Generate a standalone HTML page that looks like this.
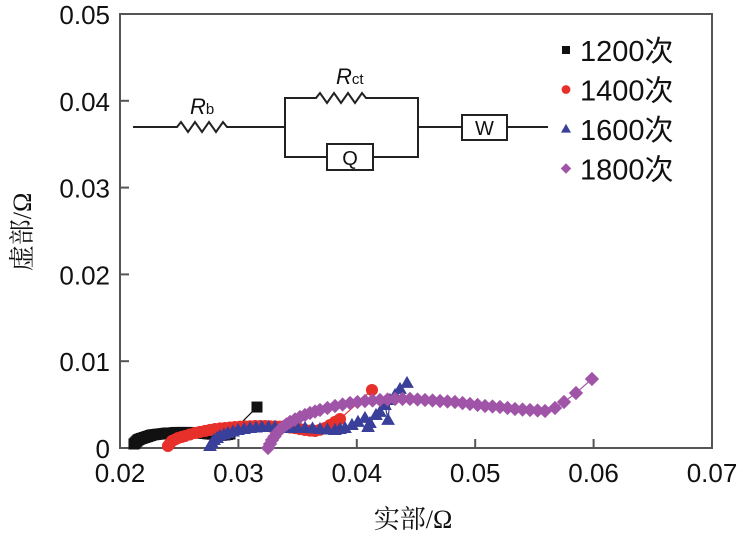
<!DOCTYPE html>
<html><head><meta charset="utf-8"><style>
html,body{margin:0;padding:0;background:#fff;}
svg{display:block;}
.t{font-family:"Liberation Sans",Arial,sans-serif;fill:#111;}
.c{font-family:"Liberation Serif","Noto Serif CJK SC",serif;fill:#111;}
</style></head><body>
<svg id="chart" width="743" height="536" viewBox="0 0 743 536">
<g id="axes"></g>
<g id="circuit" stroke="#222" stroke-width="2" fill="none">
<path d="M133 127 H177 l4 -5 l7 10 l7 -10 l7 10 l7 -10 l7 10 l7 -10 l4 5 H285"/>
<path d="M285 127 V98 H316 l4 -5 l7 10 l7 -10 l7 10 l7 -10 l7 10 l7 -10 l4 5 H418 V157 H373 M327 157 H285 V127"/>
<rect x="327" y="144" width="46" height="26" fill="#fff"/>
<path d="M418 127 H462 M507 127 H548"/>
<rect x="462" y="115" width="45" height="25" fill="#fff"/>
</g>
<text class="t" x="190" y="114" font-size="22" font-style="italic">R<tspan font-size="15" font-style="normal">b</tspan></text>
<text class="t" x="336" y="84" font-size="22" font-style="italic">R<tspan font-size="15" font-style="normal">ct</tspan></text>
<text class="t" x="350" y="165" font-size="20" text-anchor="middle">Q</text>
<text class="t" x="484.5" y="135" font-size="20" text-anchor="middle">W</text>
<g id="series"></g>
<g id="legend"></g>
<text class="c" x="413" y="528" font-size="26" text-anchor="middle">实部/Ω</text>
<text class="c" x="0" y="0" font-size="26" text-anchor="middle" transform="translate(31,232) rotate(-90)">虚部/Ω</text>
</svg>
<script>
const xTicks=[0.02,0.03,0.04,0.05,0.06,0.07];
const yTicks=[0,0.01,0.02,0.03,0.04,0.05];
const xTickLabels=["0.02","0.03","0.04","0.05","0.06","0.07"];
const yTickLabels=["0","0.01","0.02","0.03","0.04","0.05"];
const seriesNames=["1200次","1400次","1600次","1800次"];
const s1200x=[.02118,.02127,.02135,.02143,.02152,.0216,.02169,.02182,.02194,.02207,.0222,.02232,.02245,.02258,.0227,.02287,.02304,.02321,.02338,.02355,.02372,.02388,.02405,.02422,.02439,.02456,.02473,.0249,.02507,.02528,.02549,.0257,.02591,.02612,.02633,.02655,.02676,.02697,.02718,.02739,.0276,.02781,.02802,.02824,.02845,.02866,.02887,.02908,.02929,.03157];
const s1200y=[.00046,.00058,.00069,.0008,.00092,.00098,.00104,.0011,.00115,.00121,.00127,.00132,.00138,.00144,.0015,.00153,.00156,.00159,.00161,.00164,.00167,.0017,.00173,.00173,.00173,.00176,.00179,.00179,.00179,.00179,.00179,.00179,.00179,.00176,.00173,.00173,.00173,.0017,.00167,.00164,.00161,.00159,.00156,.00153,.0015,.0015,.0015,.00155,.00161,.00472];
const s1400x=[.02405,.02422,.02439,.02465,.0249,.0252,.02549,.0259,.02633,.02675,.02718,.0276,.02802,.02845,.02887,.02929,.02971,.03014,.03056,.03098,.0314,.03183,.03225,.03267,.03309,.03352,.03394,.03436,.03478,.0352,.03563,.03605,.03647,.03689,.03731,.03774,.03816,.03858,.04128];
const s1400y=[.00023,.00052,.00081,.00098,.00115,.00127,.00138,.00156,.00173,.00185,.00196,.00208,.00219,.00225,.0023,.00236,.00242,.00245,.00248,.0025,.00253,.00253,.00253,.0025,.00248,.00245,.00242,.00236,.0023,.00218,.00207,.00201,.00196,.0021,.0023,.00265,.003,.00334,.00668];
const s1600x=[.0276,.02777,.02794,.0282,.02845,.02878,.02912,.02955,.02997,.03048,.03098,.03149,.03199,.03254,.03309,.03372,.03436,.035,.03563,.03626,.03689,.03752,.03816,.03858,.039,.03959,.0401,.04069,.04095,.04111,.04162,.04196,.04238,.04264,.0428,.04323,.04365,.04424];
const s1600y=[.00023,.00058,.00092,.00115,.00138,.00156,.00173,.0019,.00207,.00219,.0023,.00236,.00242,.00242,.00242,.00236,.0023,.0023,.0023,.00225,.00219,.00213,.00207,.00219,.0023,.00265,.003,.00346,.00242,.00288,.0038,.00415,.00495,.00323,.00553,.00611,.0068,.00749];
const s1800x=[.0325,.03267,.03284,.03305,.03326,.0335,.03377,.03405,.03436,.03478,.0352,.03562,.03605,.03647,.03689,.03752,.03816,.0388,.03943,.04006,.04069,.04133,.04196,.0426,.04323,.04386,.04449,.04513,.04576,.0464,.04703,.04766,.04829,.04893,.04956,.0502,.05083,.05146,.05209,.05273,.05336,.054,.05463,.05527,.0559,.05674,.0575,.05851,.05986];
const s1800y=[0,.00046,.00092,.00133,.00173,.0021,.00242,.00272,.003,.00329,.00357,.0038,.00403,.0042,.00438,.00461,.00484,.00501,.00518,.0053,.00541,.00547,.00553,.00559,.00565,.00565,.00565,.00559,.00553,.00547,.00541,.00536,.0053,.00518,.00507,.00496,.00484,.00478,.00472,.00461,.00449,.00443,.00438,.00432,.00426,.00461,.0053,.00634,.00795];

const NS='http://www.w3.org/2000/svg';
const X0=120,X1=712,Y0=448,Y1=14;
const xs=v=>X0+(v-0.02)/0.05*(X1-X0);
const ys=v=>Y0-(v/0.05)*(Y0-Y1);
function mk(tag,attrs,parent){const e=document.createElementNS(NS,tag);for(const k in attrs)e.setAttribute(k,attrs[k]);parent.appendChild(e);return e;}
const axes=document.getElementById('axes');
const frame=mk('rect',{x:X0,y:Y1,width:X1-X0,height:Y0-Y1,fill:'none',stroke:'#555','stroke-width':2},axes);


xTicks.forEach((v,i)=>{
  const l=mk('line',{x1:xs(v),x2:xs(v),y1:Y0,y2:Y0-9,stroke:'#555','stroke-width':2},axes);
  
  
  const t=mk('text',{x:xs(v),y:Y0+34,'font-size':26,'text-anchor':'middle',class:'t'},axes);
  t.textContent=xTickLabels[i];
  
  
});
yTicks.forEach((v,i)=>{
  const l=mk('line',{x1:X0,x2:X0+9,y1:ys(v),y2:ys(v),stroke:'#555','stroke-width':2},axes);
  
  
  const t=mk('text',{x:X0-10,y:ys(v)+10,'font-size':26,'text-anchor':'end',class:'t'},axes);
  t.textContent=yTickLabels[i];
  
  
});
const colors=['#111111','#e8302a','#3a3f9a','#a054a8'];
const shapes=['square','circle','triangle','diamond'];
function marker(p,shape,cx,cy,r,col){
  if(shape==='square')return mk('rect',{x:cx-r,y:cy-r,width:2*r,height:2*r,fill:col},p);
  if(shape==='circle')return mk('circle',{cx:cx,cy:cy,r:r*1.1,fill:col},p);
  if(shape==='triangle')return mk('polygon',{points:`${cx},${cy-r*1.3} ${cx-r*1.25},${cy+r*0.9} ${cx+r*1.25},${cy+r*0.9}`,fill:col},p);
  return mk('polygon',{points:`${cx},${cy-r*1.3} ${cx+r*1.3},${cy} ${cx},${cy+r*1.3} ${cx-r*1.3},${cy}`,fill:col},p);
}
const sx=[s1200x,s1400x,s1600x,s1800x],sy=[s1200y,s1400y,s1600y,s1800y];
const ser=document.getElementById('series');
sx.forEach((xa,k)=>{
  const g=mk('g',{},ser);
  
  
  const pl=mk('polyline',{points:xa.map((x,i)=>xs(x)+','+ys(sy[k][i])).join(' '),fill:'none',stroke:colors[k],'stroke-width':1.2},g);
  
  
  xa.forEach((x,i)=>{
    const m=marker(g,shapes[k],xs(x),ys(sy[k][i]),5.5,colors[k]);
    
    
  });
});
const leg=document.getElementById('legend');
seriesNames.forEach((n,k)=>{
  const cy=50+k*39.5;
  const m=marker(leg,shapes[k],566,cy,4,colors[k]);
  
  
  const t=mk('text',{x:580,y:cy+11,'font-size':29,class:'t'},leg);
  t.setAttribute('font-family','"Liberation Sans","Noto Sans CJK SC",sans-serif');
  t.textContent=n;
  
  
});
</script>
</body></html>
